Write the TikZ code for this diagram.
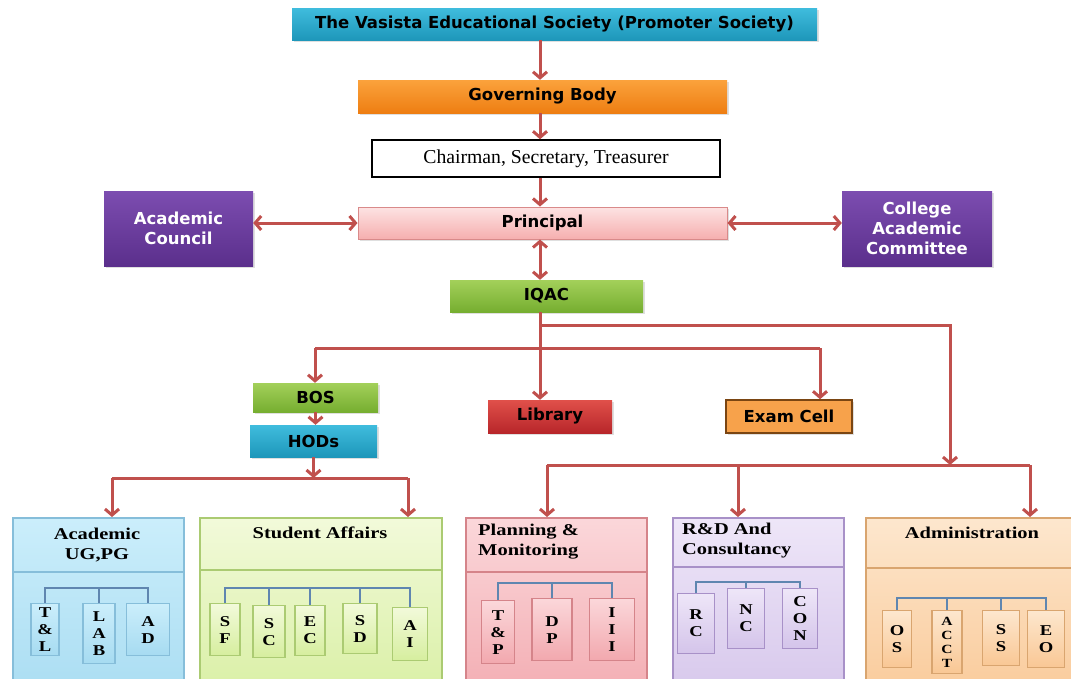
\documentclass[tikz,border=0pt]{standalone}
\usepackage{fontspec}
\usetikzlibrary{arrows.meta,shadows}

\newfontfamily\boxsans{DejaVu Sans}
\newfontfamily\boxserif[FakeStretch=1.24]{Liberation Serif}
\newfontfamily\cstserif{Liberation Serif}

%	colours
\definecolor{linkred}{HTML}{C0504D}
\definecolor{tealtop}{HTML}{3FBCDD}
\definecolor{tealbot}{HTML}{1E97BA}
\definecolor{orgtop}{HTML}{FBA23C}
\definecolor{orgbot}{HTML}{EE7E12}
\definecolor{pinktop}{HTML}{FDE3E3}
\definecolor{pinkbot}{HTML}{F6AFAF}
\definecolor{pinkline}{HTML}{D98A8A}
\definecolor{purtop}{HTML}{7C4DB0}
\definecolor{purbot}{HTML}{5B2F8C}
\definecolor{grntop}{HTML}{A3D05A}
\definecolor{grnbot}{HTML}{76AE30}
\definecolor{redtop}{HTML}{E0504A}
\definecolor{redbot}{HTML}{B8262A}
\definecolor{examfill}{HTML}{F7A24B}
\definecolor{examline}{HTML}{7A4512}
\definecolor{brkline}{HTML}{5F86B0}
\definecolor{ubluetop}{HTML}{CBEEFB}
\definecolor{ubluebot}{HTML}{A6DBF1}
\definecolor{ublueln}{HTML}{86BEDA}
\definecolor{ugrntop}{HTML}{F2FADA}
\definecolor{ugrnbot}{HTML}{D6EE9E}
\definecolor{ugrnln}{HTML}{ABCB72}
\definecolor{upnktop}{HTML}{FBD7DA}
\definecolor{upnkbot}{HTML}{F2A8AE}
\definecolor{upnkln}{HTML}{D5848A}
\definecolor{ulavtop}{HTML}{EEE6F8}
\definecolor{ulavbot}{HTML}{D4C4EA}
\definecolor{ulavln}{HTML}{A891C8}
\definecolor{upchtop}{HTML}{FDE7CE}
\definecolor{upchbot}{HTML}{F9C794}
\definecolor{upchln}{HTML}{D9A56F}

\tikzset{
	barb/.tip={Straight Barb[length=6pt,width=14pt]},
	link/.style={draw=linkred, line width=3pt},
	arr/.style={link, -barb},
	darr/.style={link, barb-barb},
	colbox/.style={rectangle, inner sep=0pt, align=center,
		drop shadow={shadow xshift=2pt, shadow yshift=-2pt, opacity=0.25},
		font=\boxsans\bfseries\fontsize{16.5}{20}\selectfont},
	unit/.style n args={3}{rectangle, anchor=north west, inner sep=0pt,
		top color=#1, bottom color=#2, draw=#3, line width=1.5pt},
	hdtext/.style={align=center, inner sep=0pt,
		font=\boxserif\bfseries\fontsize{16.5}{20}\selectfont},
	sub/.style n args={3}{rectangle, anchor=north, inner sep=0pt, align=center,
		top color=#1, bottom color=#2, draw=#3, line width=1.3pt,
		font=\boxserif\bfseries\fontsize{15}{17}\selectfont},
	brk/.style={draw=brkline, line width=1.5pt}
}

\begin{document}
\begin{tikzpicture}[x=1pt, y=-1pt]
	%	frame
	\useasboundingbox (0,0) rectangle (1071,678);
	\clip (0,0) rectangle (1071,678);
	\fill[white] (0,0) rectangle (1071,678);
	
	\coordinate (mid) at (540,0);
	
	%	top chain
	\node[colbox, top color=tealtop, bottom color=tealbot, minimum width=525pt, minimum height=32pt] (vs) at (554.5,24) {The Vasista Educational Society (Promoter Society)};
	\node[colbox, top color=orgtop, bottom color=orgbot, minimum width=369pt, minimum height=33pt] (gb) at (542.5,96.5) {Governing Body};
	\node[rectangle, draw, line width=1.5pt, fill=white, minimum width=348pt, minimum height=37pt, font=\cstserif\fontsize{19.7}{22}\selectfont] (cst) at (546,158.5) {Chairman, Secretary, Treasurer};
	\node[colbox, top color=pinktop, bottom color=pinkbot, draw=pinkline, line width=1pt, minimum width=369pt, minimum height=32pt] (pr) at (542.5,223) {Principal};
	\node[colbox, top color=purtop, bottom color=purbot, text=white, minimum width=149pt, minimum height=75pt] (acc) at (178.5,228.5) {Academic\\Council};
	\node[colbox, top color=purtop, bottom color=purbot, text=white, minimum width=150pt, minimum height=75pt] (cac) at (917,228.5) {College\\Academic\\Committee};
	\node[colbox, top color=grntop, bottom color=grnbot, minimum width=193pt, minimum height=32pt] (iqac) at (546.5,296) {IQAC};
	
	\draw[arr] (vs.south -| mid) -- (gb.north -| mid);
	\draw[arr] (gb.south -| mid) -- (cst.north -| mid);
	\draw[arr] (cst.south -| mid) -- (pr.north -| mid);
	\draw[darr] (pr.south -| mid) -- (iqac.north -| mid);
	\draw[darr] (acc.east |- pr.west) -- (pr.west);
	\draw[darr] (pr.east) -- (cac.west |- pr.east);
	
	%	second level
	\node[colbox, top color=grntop, bottom color=grnbot, minimum width=125pt, minimum height=29pt] (bos) at (315.5,397.5) {BOS};
	\node[colbox, top color=tealtop, bottom color=tealbot, minimum width=127pt, minimum height=32pt] (hod) at (313.5,441) {HODs};
	\node[colbox, top color=redtop, bottom color=redbot, minimum width=124pt, minimum height=33pt] (lib) at (550,416.5) {Library};
	\node[colbox, fill=examfill, draw=examline, line width=1.5pt, minimum width=126pt, minimum height=33pt] (exam) at (789,416.5) {Exam Cell};
	
	\coordinate (qa) at (315,348);
	\coordinate (qb) at (820,348);
	\coordinate (qc) at (540,325);
	\coordinate (qd) at (950,465);
	\coordinate (qe) at (547,465);
	\coordinate (qf) at (1030,465);
	\coordinate (qg) at (738,465);
	\coordinate (ha) at (112,478);
	\coordinate (hb) at (408,478);
	
	\draw[link] (iqac.south -| mid) -- (mid |- qa);
	\draw[link] (qa) -- (qb);
	\draw[arr] (qa) -- (qa |- bos.north);
	\draw[arr] (mid |- qa) -- (mid |- lib.north);
	\draw[arr] (qb) -- (qb |- exam.north);
	\draw[arr] (qc) -| (qd);
	\draw[link] (qe) -- (qf);
	\draw[arr] (bos.south) -- (bos.south |- hod.north);
	\draw[arr] (hod.south) -- (hod.south |- ha);
	\draw[link] (ha) -- (hb);
	
	%	units
	\node[unit={ubluetop}{ubluebot}{ublueln}, minimum width=171pt, minimum height=200pt] (acad) at (12,517) {};
	\node[unit={ugrntop}{ugrnbot}{ugrnln}, minimum width=242pt, minimum height=200pt] (sa) at (199,517) {};
	\node[unit={upnktop}{upnkbot}{upnkln}, minimum width=181pt, minimum height=200pt] (pm) at (465,517) {};
	\node[unit={ulavtop}{ulavbot}{ulavln}, minimum width=171pt, minimum height=200pt] (rd) at (672,517) {};
	\node[unit={upchtop}{upchbot}{upchln}, minimum width=230pt, minimum height=200pt] (adm) at (865,517) {};
	
	\draw[arr] (ha) -- (ha |- acad.north);
	\draw[arr] (hb) -- (hb |- sa.north);
	\draw[arr] (qe) -- (qe |- pm.north);
	\draw[arr] (qg) -- (qg |- rd.north);
	\draw[arr] (qf) -- (qf |- adm.north);
	
	\draw[draw=ublueln, line width=1.5pt] (acad.west |- 0,572) -- (acad.east |- 0,572);
	\draw[draw=ugrnln, line width=1.5pt] (sa.west |- 0,570) -- (sa.east |- 0,570);
	\draw[draw=upnkln, line width=1.5pt] (pm.west |- 0,572) -- (pm.east |- 0,572);
	\draw[draw=ulavln, line width=1.5pt] (rd.west |- 0,567) -- (rd.east |- 0,567);
	\draw[draw=upchln, line width=1.5pt] (adm.west |- 0,568) -- (adm.east |- 0,568);
	
	\node[hdtext] (acadt) at (97,545) {Academic\\UG,PG};
	\node[hdtext] (sat) at (320,533) {Student Affairs};
	\node[hdtext, align=left, anchor=west] (pmt) at (478,542) {Planning \&\\Monitoring};
	\node[hdtext, align=left, anchor=west] (rdt) at (682,541) {R\&D And\\Consultancy};
	\node[hdtext] (admt) at (972,533) {Administration};
	
	%	academic
	\node[sub={ubluetop}{ubluebot}{ublueln}, minimum width=28pt, minimum height=52pt] (tl) at (45,603) {T\\\&\\L};
	\node[sub={ubluetop}{ubluebot}{ublueln}, minimum width=32pt, minimum height=60pt] (lab) at (99,603) {L\\A\\B};
	\node[sub={ubluetop}{ubluebot}{ublueln}, minimum width=43pt, minimum height=52pt] (ad) at (148,603) {A\\D};
	\coordinate (acb) at (0,588);
	\draw[brk] (tl.north) -- (tl.north |- acb) -| (ad.north);
	\draw[brk] (lab.north) -- (lab.north |- acb);
	
	%	student affairs
	\node[sub={ugrntop}{ugrnbot}{ugrnln}, minimum width=30pt, minimum height=52pt] (sf) at (225,603) {S\\F};
	\node[sub={ugrntop}{ugrnbot}{ugrnln}, minimum width=32pt, minimum height=52pt] (sc) at (269,605) {S\\C};
	\node[sub={ugrntop}{ugrnbot}{ugrnln}, minimum width=30pt, minimum height=50pt] (ec) at (310,605) {E\\C};
	\node[sub={ugrntop}{ugrnbot}{ugrnln}, minimum width=34pt, minimum height=50pt] (sd) at (360,603) {S\\D};
	\node[sub={ugrntop}{ugrnbot}{ugrnln}, minimum width=35pt, minimum height=53pt] (ai) at (410,607) {A\\I};
	\coordinate (sab) at (0,588);
	\draw[brk] (sf.north) -- (sf.north |- sab) -| (ai.north);
	\foreach \s in {sc,ec,sd}
		\draw[brk] (\s.north) -- (\s.north |- sab);
	
	%	planning
	\node[sub={upnktop}{upnkbot}{upnkln}, minimum width=33pt, minimum height=63pt] (tp) at (498,600) {T\\\&\\P};
	\node[sub={upnktop}{upnkbot}{upnkln}, minimum width=40pt, minimum height=62pt] (dp) at (552,598) {D\\P};
	\node[sub={upnktop}{upnkbot}{upnkln}, minimum width=45pt, minimum height=62pt] (iii) at (612,598) {I\\I\\I};
	\coordinate (pmb) at (0,583);
	\draw[brk] (tp.north) -- (tp.north |- pmb) -| (iii.north);
	\draw[brk] (dp.north) -- (dp.north |- pmb);
	
	%	r&d
	\node[sub={ulavtop}{ulavbot}{ulavln}, minimum width=37pt, minimum height=60pt] (rc) at (696,593) {R\\C};
	\node[sub={ulavtop}{ulavbot}{ulavln}, minimum width=37pt, minimum height=60pt] (nc) at (746,588) {N\\C};
	\node[sub={ulavtop}{ulavbot}{ulavln}, minimum width=35pt, minimum height=60pt] (con) at (800,588) {C\\O\\N};
	\coordinate (rdb) at (0,582);
	\draw[brk] (rc.north) -- (rc.north |- rdb) -| (con.north);
	\draw[brk] (nc.north) -- (nc.north |- rdb);
	
	%	administration
	\node[sub={upchtop}{upchbot}{upchln}, minimum width=29pt, minimum height=57pt] (os) at (897,610) {O\\S};
	\node[sub={upchtop}{upchbot}{upchln}, minimum width=30pt, minimum height=63pt, font=\boxserif\bfseries\fontsize{12.5}{14}\selectfont] (acct) at (947,610) {A\\C\\C\\T};
	\node[sub={upchtop}{upchbot}{upchln}, minimum width=37pt, minimum height=55pt] (ss) at (1001,610) {S\\S};
	\node[sub={upchtop}{upchbot}{upchln}, minimum width=37pt, minimum height=57pt] (eo) at (1046,610) {E\\O};
	\coordinate (adb) at (0,598);
	\draw[brk] (os.north) -- (os.north |- adb) -| (eo.north);
	\foreach \s in {acct,ss}
		\draw[brk] (\s.north) -- (\s.north |- adb);
\end{tikzpicture}
\end{document}
